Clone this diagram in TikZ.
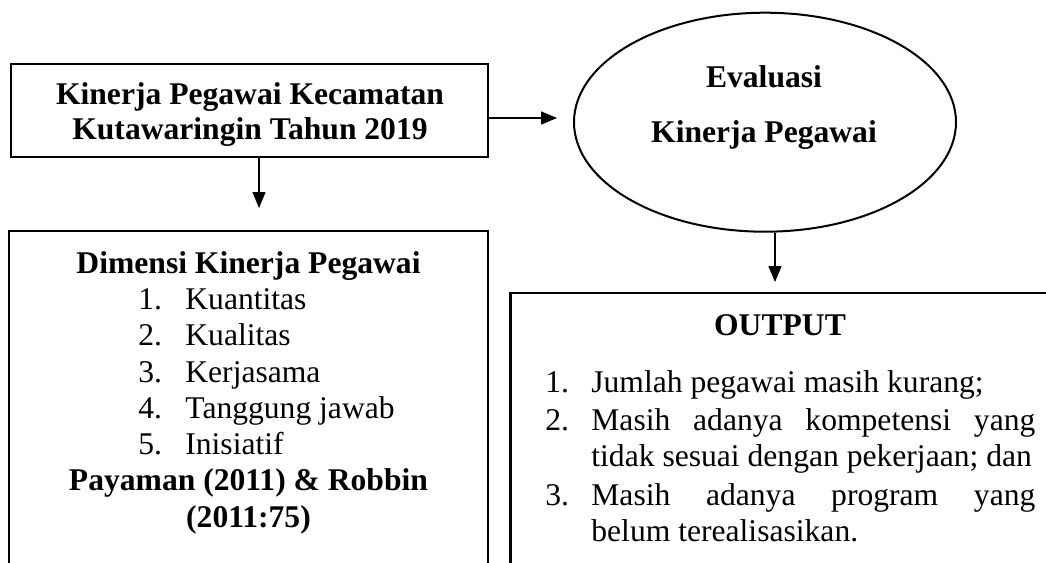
\documentclass[tikz,border=0pt]{standalone}
\usepackage{fontspec}
\setmainfont{Liberation Serif}
\usetikzlibrary{arrows.meta}
\usetikzlibrary{shapes.geometric}

\tikzset{
  kotak/.style={draw, rectangle, line width=1.4pt, inner sep=0pt},
  panah/.style={-{Triangle[width=6.5pt,length=8pt]}, line width=0.65pt},
  teks/.style={anchor=base, inner sep=0pt, font=\fontsize{15.8}{18}\selectfont},
  tebal/.style={teks, font=\fontsize{15.8}{18}\selectfont\bfseries},
  butir/.style={teks, anchor=base west},
  isian/.style={butir, text width=222pt, align=justify}
}

\begin{document}
\begin{tikzpicture}[x=0.5pt,y=-0.5pt]
      \useasboundingbox (0,0) rectangle (1046,563);
      \clip (0,0) rectangle (1046,563);
      \node[kotak, minimum width=238.5pt, minimum height=46.5pt] (kinerja) at (249.5,110.5) {};
      \node[tebal] (kinerja1) at (250,104) {Kinerja Pegawai Kecamatan};
      \node[tebal] (kinerja2) at (250,139) {Kutawaringin Tahun 2019};
      \node[draw, ellipse, line width=1pt, inner sep=0pt, minimum width=191pt, minimum height=109.5pt] (evaluasi) at (765,122.2) {};
      \node[tebal] (evaluasi1) at (764,87) {Evaluasi};
      \node[tebal] (evaluasi2) at (764,142) {Kinerja Pegawai};
      \node[kotak, minimum width=239.5pt, minimum height=194.5pt] (dimensi) at (248.5,425.5) {};
      \node[tebal] (dimensi0) at (248.5,273) {Dimensi Kinerja Pegawai};
      \node[butir] (dimensi1) at (138,309) {\makebox[23.5pt][l]{1.}Kuantitas};
      \node[butir] (dimensi2) at (138,345.5) {\makebox[23.5pt][l]{2.}Kualitas};
      \node[butir] (dimensi3) at (138,382) {\makebox[23.5pt][l]{3.}Kerjasama};
      \node[butir] (dimensi4) at (138,418) {\makebox[23.5pt][l]{4.}Tanggung jawab};
      \node[butir] (dimensi5) at (138,454.5) {\makebox[23.5pt][l]{5.}Inisiatif};
      \node[tebal] (sumber1) at (248.5,490.5) {Payaman (2011) \& Robbin};
      \node[tebal] (sumber2) at (248.5,527) {(2011:75)};
      \node[kotak, minimum width=294.75pt, minimum height=163.5pt] (output) at (805.25,456.5) {};
      \node[tebal] (output0) at (780,335) {OUTPUT};
      \node[butir] (nomor1) at (545,392) {1.};
      \node[isian] (output1) at (591,392) {Jumlah pegawai masih kurang;};
      \node[butir] (nomor2) at (545,430) {2.};
      \node[isian] (output2) at (591,430) {Masih adanya kompetensi yang\linebreak tidak sesuai dengan pekerjaan; dan};
      \node[butir] (nomor3) at (545,505) {3.};
      \node[isian] (output3) at (591,505) {Masih adanya program yang\linebreak belum terealisasikan.};
      \coordinate (ujung1) at (259,208);
      \coordinate (ujung2) at (557,118);
      \coordinate (ujung3) at (775,282);
      \draw[panah] (kinerja.south -| ujung1) -- (ujung1);
      \draw[panah] (kinerja.east |- ujung2) -- (ujung2);
      \draw[panah] (evaluasi.south -| ujung3) -- (ujung3);
\end{tikzpicture}
\end{document}
